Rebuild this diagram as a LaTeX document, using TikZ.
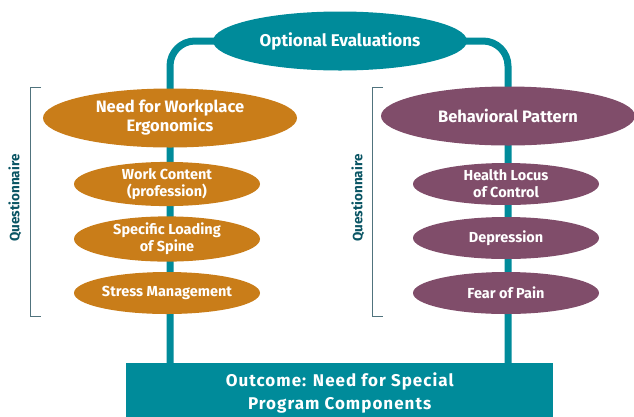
\documentclass[tikz,border=0pt]{standalone}
\usepackage{fontspec}
\setmainfont{Fira Sans}
\usetikzlibrary{shapes.geometric,backgrounds}
\definecolor{myteal}{RGB}{0,139,154}
\definecolor{myorange}{RGB}{201,125,25}
\definecolor{mypurple}{RGB}{128,77,106}
\definecolor{brkcol}{RGB}{80,115,125}
\definecolor{qcol}{RGB}{10,85,100}
\begin{document}
\begin{tikzpicture}[x=1pt,y=-1pt,
 ell/.style={ellipse, inner sep=0pt, text=white, align=center},
 big/.style={ell, minimum width=254pt, minimum height=59pt, font=\bfseries\fontsize{16.5}{19}\selectfont},
 small/.style={ell, minimum width=186pt, minimum height=42pt, font=\bfseries\fontsize{14.5}{17}\selectfont},
 conn/.style={line width=7pt, draw=myteal},
 brk/.style={draw=brkcol, line width=1pt},
 qlabel/.style={rotate=90, font=\bfseries\fontsize{13.5}{14}\selectfont, text=qcol}]
\useasboundingbox (0,0) rectangle (634,416);
\node[ell, fill=myteal, minimum width=254pt, minimum height=59pt, font=\bfseries\fontsize{17}{19}\selectfont] (opt) at (340,41) {Optional Evaluations};
\node[big, fill=myorange] (need) at (170,118) {Need for Workplace\\Ergonomics};
\node[small, fill=myorange] (work) at (167,184) {Work Content\\(profession)};
\node[small, fill=myorange] (spine) at (167,239) {Specific Loading\\of Spine};
\node[small, fill=myorange] (stress) at (167,293) {Stress Management};
\node[big, fill=mypurple] (beh) at (508,116) {Behavioral Pattern};
\node[small, fill=mypurple] (locus) at (506,184) {Health Locus\\of Control};
\node[small, fill=mypurple] (dep) at (506,238) {Depression};
\node[small, fill=mypurple] (fear) at (506,293) {Fear of Pain};
\node[fill=myteal, minimum width=427pt, minimum height=60pt, anchor=north west, inner sep=0pt, text=white, align=center, font=\bfseries\fontsize{17}{23}\selectfont\addfontfeatures{LetterSpace=6}] (out) at (126,363) {Outcome: Need for Special\\Program Components};
\begin{scope}[on background layer]
\draw[conn, rounded corners=25pt] (opt.center) -| (out.north -| need.center);
\draw[conn, rounded corners=25pt] (opt.center) -| (out.north -| beh.center);
\end{scope}
\draw[brk] (41,87) -- (30,87) -- (30,316) -- (41,316);
\draw[brk] (383,87) -- (372,87) -- (372,316) -- (383,316);
\node[qlabel] (q1) at (15,198) {Questionnaire};
\node[qlabel] (q2) at (358,198) {Questionnaire};
\end{tikzpicture}
\end{document}
